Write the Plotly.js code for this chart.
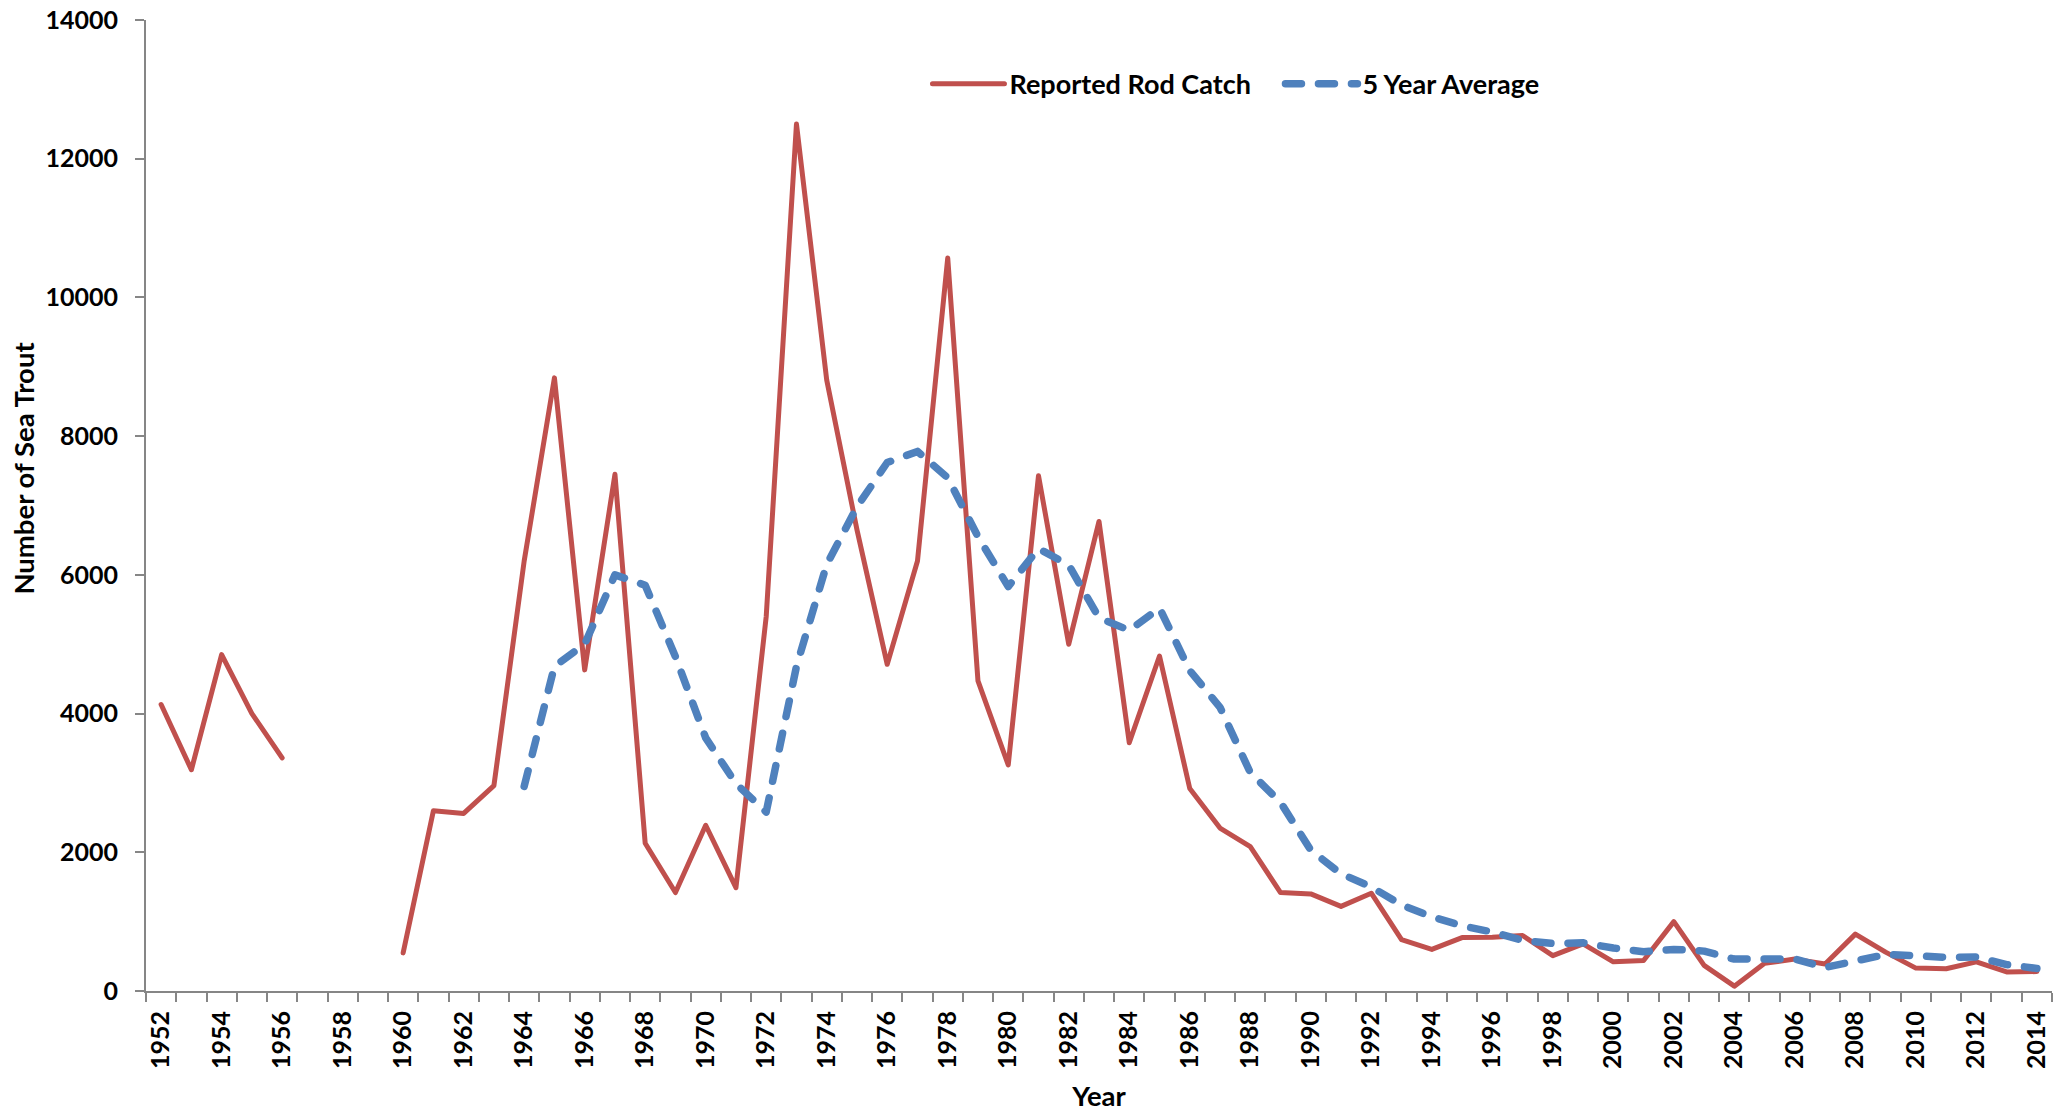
<!DOCTYPE html>
<html>
<head>
<meta charset="utf-8">
<script src="https://cdn.plot.ly/plotly-3.0.1.min.js"></script>
<style>
  html, body { margin: 0; padding: 0; background: #ffffff; }
  #chart { width: 2069px; height: 1114px; }
  path.js-line { stroke-linecap: round; stroke-linejoin: round; }
</style>
</head>
<body>
<div id="chart"></div>
<script>
// ---- data ----
const years = [1952,1953,1954,1955,1956,1957,1958,1959,1960,1961,1962,1963,1964,1965,1966,1967,1968,1969,
  1970,1971,1972,1973,1974,1975,1976,1977,1978,1979,1980,1981,1982,1983,1984,1985,1986,1987,1988,1989,
  1990,1991,1992,1993,1994,1995,1996,1997,1998,1999,2000,2001,2002,2003,2004,2005,2006,2007,2008,2009,
  2010,2011,2012,2013,2014];

const rodCatch = [4130,3190,4850,4000,3360,null,null,null,
  550,2600,2560,2960,6200,8840,4630,7450,2130,1420,
  2390,1490,5400,12500,8810,6650,4710,6200,10570,4470,
  3260,7430,5000,6770,3580,4830,2920,2350,2080,1420,
  1400,1220,1410,740,600,770,775,800,510,680,
  420,440,1000,370,70,400,460,390,820,560,
  330,320,420,275,280];

const fiveYearAvg = [null,null,null,null,null,null,null,null,null,null,null,null,
  2950,4680,5000,6000,5850,4820,
  3650,2990,2580,4680,6150,6980,7620,7780,7400,6550,
  5830,6380,6140,5380,5200,5520,4620,4090,3150,2720,
  2030,1690,1500,1240,1070,940,850,730,685,695,
  620,565,600,575,460,455,460,340,430,525,
  510,485,490,380,325];

const seriesNames = ["Reported Rod Catch", "5 Year Average"];
const labelYears = years.filter(y => y % 2 === 0);
const labelText = labelYears.map(String);

// ---- styles ----
const FONT = "Lato, 'Open Sans', sans-serif";
const axisGrey = "#868686";

const traces = [
  {
    x: years, y: rodCatch, name: seriesNames[0], type: "scatter", mode: "lines",
    connectgaps: false,
    line: { color: "#C0504D", width: 5 }
  },
  {
    x: years, y: fiveYearAvg, name: seriesNames[1], type: "scatter", mode: "lines",
    connectgaps: false,
    line: { color: "#4F81BD", width: 7.5, dash: "16px,17px" }
  }
];

const layout = {
  width: 2069, height: 1114,
  paper_bgcolor: "#ffffff", plot_bgcolor: "#ffffff",
  margin: { l: 146, r: 17, t: 20, b: 123, pad: 0 },
  font: { family: FONT, color: "#000000", size: 24, weight: 700 },
  showlegend: true,
  legend: {
    orientation: "h",
    x: 0.410, xanchor: "left",
    y: 0.934, yanchor: "middle",
    font: { family: FONT, size: 27, color: "#000000", weight: 700 },
    bgcolor: "rgba(0,0,0,0)",
    itemwidth: 72,
    entrywidth: 266,
    entrywidthmode: "pixels",
    traceorder: "normal"
  },
  xaxis: {
    type: "linear",
    range: [years[0] - 0.5, years[years.length - 1] + 0.5],
    tickmode: "array",
    tickvals: labelYears,
    ticktext: labelText,
    tickangle: -90,
    ticks: "",
    ticklabelstandoff: 8,
    tickfont: { family: FONT, size: 25, color: "#000000", weight: 700 },
    minor: {
      ticks: "outside", ticklen: 9, tickwidth: 2, tickcolor: axisGrey,
      tick0: years[0] - 0.5, dtick: 1, showgrid: false
    },
    showline: true, linecolor: axisGrey, linewidth: 2,
    showgrid: false, zeroline: false,
    title: { text: "Year", font: { family: FONT, size: 27.5, color: "#000000", weight: 700 }, standoff: 19 }
  },
  yaxis: {
    range: [0, 14000],
    tick0: 0, dtick: 2000,
    ticks: "outside", ticklen: 9, tickwidth: 2, tickcolor: axisGrey,
    ticklabelstandoff: 12,
    tickfont: { family: FONT, size: 25, color: "#000000", weight: 700 },
    showline: true, linecolor: axisGrey, linewidth: 2,
    showgrid: false, zeroline: false,
    tickformat: "d"
  },
  annotations: [
    {
      text: "Number of Sea Trout",
      xref: "paper", yref: "paper",
      x: -0.064, y: 0.538, xanchor: "center", yanchor: "middle",
      textangle: -90, showarrow: false,
      font: { family: FONT, size: 27.5, color: "#000000", weight: 700 }
    }
  ]
};

Plotly.newPlot("chart", traces, layout, { displayModeBar: false, staticPlot: true });
</script>
</body>
</html>
